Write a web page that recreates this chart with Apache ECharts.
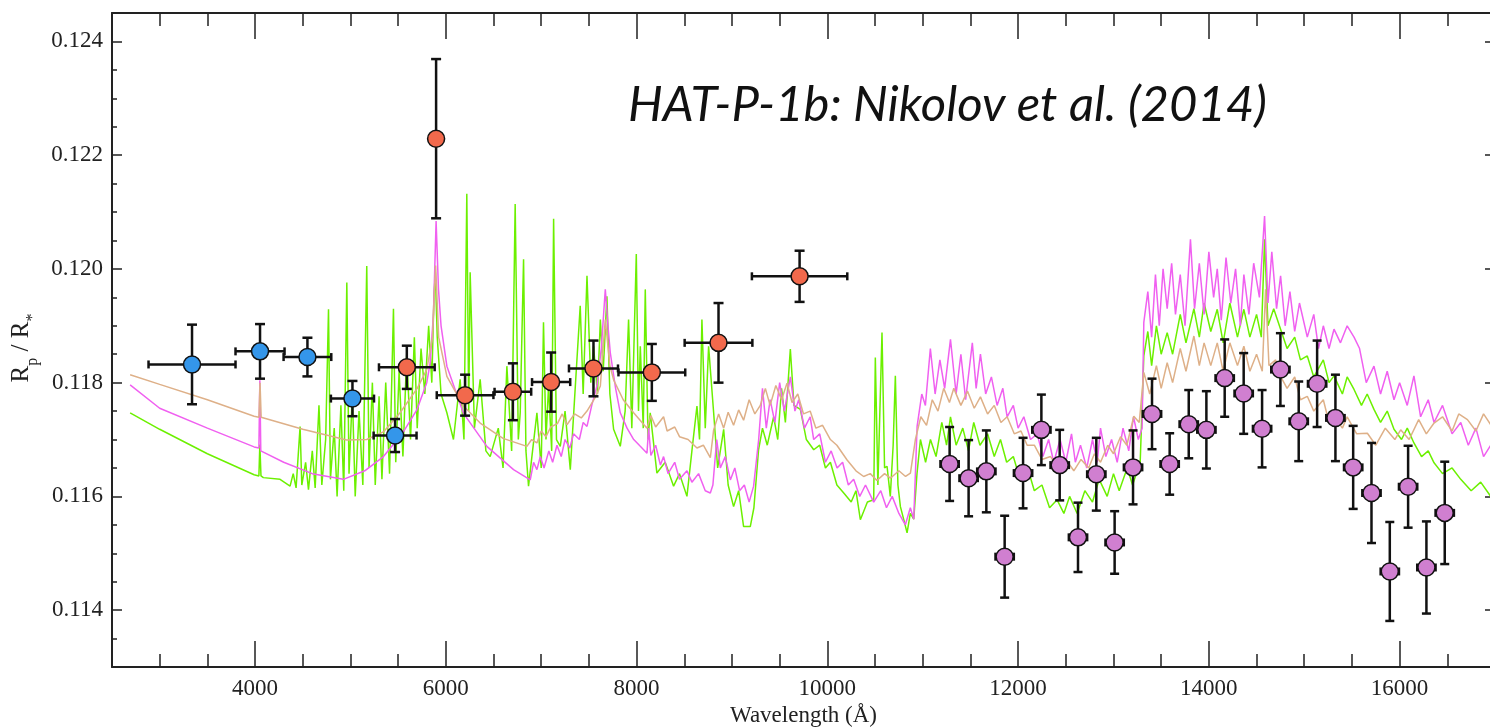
<!DOCTYPE html>
<html>
<head>
<meta charset="utf-8">
<title>HAT-P-1b transmission spectrum</title>
<script src="https://cdn.jsdelivr.net/npm/echarts@6.0.0/dist/echarts.min.js"></script>
<style>
html, body { margin: 0; padding: 0; background: #fff; }
#main { width: 1490px; height: 727px; }
</style>
</head>
<body>
<div id="main"></div>
<script>
// tick positions
const xMajor = [4000, 6000, 8000, 10000, 12000, 14000, 16000];
const xMinor = [3000, 3500, 4500, 5000, 5500, 6500, 7000, 7500, 8500, 9000, 9500,
  10500, 11000, 11500, 12500, 13000, 13500, 14500, 15000, 15500, 16500];
const yMajor = [0.114, 0.116, 0.118, 0.120, 0.122, 0.124];
const yMinor = [0.1135, 0.1145, 0.115, 0.1155, 0.1165, 0.117, 0.1175, 0.1185, 0.119, 0.1195,
  0.1205, 0.121, 0.1215, 0.1225, 0.123, 0.1235];

// STIS G430L bins (blue)
const blueWave = [3339, 4052, 4549, 5021, 5468];
const blueRp = [0.11832, 0.11855, 0.11845, 0.11772, 0.11707];
const blueWaveErr = [456, 257, 250, 226, 225];
const blueRpErr = [0.00070, 0.00048, 0.00034, 0.00031, 0.00029];

// STIS G750L bins (orange)
const orangeWave = [5591, 5898, 6202, 6703, 7104, 7548, 8160, 8859, 9709];
const orangeRp = [0.11827, 0.12229, 0.11778, 0.11784, 0.11801, 0.11825, 0.11818, 0.11870, 0.11987];
const orangeWaveErr = [292, 0, 297, 192, 200, 257, 350, 355, 500];
const orangeRpErr = [0.00038, 0.00140, 0.00036, 0.00050, 0.00052, 0.00049, 0.00050, 0.00070, 0.00045];

// WFC3 bins (purple)
const purpleWave = [11282, 11481, 11667, 11859, 12052, 12244, 12436, 12628, 12820, 13012, 13205, 13404,
  13589, 13789, 13974, 14166, 14365, 14558, 14750, 14942, 15135, 15327, 15513, 15705, 15897, 16089, 16281, 16473];
const purpleRp = [0.11657, 0.11632, 0.11644, 0.11494, 0.11641, 0.11717, 0.11655, 0.11528, 0.11639, 0.11519,
  0.11651, 0.11745, 0.11657, 0.11727, 0.11717, 0.11808, 0.11781, 0.11719, 0.11823, 0.11732, 0.11798,
  0.11738, 0.11651, 0.11606, 0.11468, 0.11617, 0.11475, 0.11571];
const purpleRpErr = [0.00065, 0.00067, 0.00072, 0.00072, 0.00062, 0.00062, 0.00062, 0.00061, 0.00064, 0.00055,
  0.00065, 0.00062, 0.00054, 0.00060, 0.00068, 0.00068, 0.00071, 0.00068, 0.00064, 0.00070, 0.00076,
  0.00076, 0.00073, 0.00088, 0.00087, 0.00072, 0.00081, 0.00090];
const purpleWaveErr = 96;

// model spectra [wavelength, Rp/R*]
const greenModel = [
  [2690, 0.11747], [3000, 0.11718], [3500, 0.11675], [3990, 0.11638], [4040, 0.11636], [4050, 0.11691],
  [4062, 0.11636], [4087, 0.11633], [4262, 0.11630], [4367, 0.11618], [4400, 0.11640], [4430, 0.11615],
  [4472, 0.11723], [4490, 0.11620], [4530, 0.11660], [4560, 0.11612], [4600, 0.11680], [4630, 0.11615],
  [4670, 0.11760], [4700, 0.11620], [4740, 0.11700], [4770, 0.11929], [4790, 0.11630], [4830, 0.11720],
  [4860, 0.11600], [4900, 0.11760], [4930, 0.11610], [4962, 0.11976], [4985, 0.11640], [5020, 0.11780],
  [5050, 0.11600], [5090, 0.11750], [5130, 0.11620], [5171, 0.12005], [5195, 0.11650], [5230, 0.11800],
  [5260, 0.11620], [5300, 0.11776], [5330, 0.11630], [5370, 0.11800], [5410, 0.11640], [5451, 0.11930],
  [5475, 0.11660], [5510, 0.11820], [5550, 0.11670], [5590, 0.11850], [5630, 0.11700], [5670, 0.11880],
  [5700, 0.11720], [5740, 0.11860], [5780, 0.11780], [5820, 0.11900], [5853, 0.11800], [5875, 0.11950],
  [5890, 0.11994], [5910, 0.11880], [5950, 0.11780], [6011, 0.11747], [6080, 0.11700], [6150, 0.11806],
  [6190, 0.11700], [6220, 0.12132], [6240, 0.11750], [6255, 0.11994], [6300, 0.11720], [6360, 0.11806],
  [6420, 0.11680], [6465, 0.11670], [6550, 0.11720], [6600, 0.11650], [6640, 0.11829], [6690, 0.11680],
  [6727, 0.12114], [6760, 0.11700], [6780, 0.11747], [6815, 0.12017], [6840, 0.11680], [6867, 0.11618],
  [6955, 0.11747], [7000, 0.11650], [7024, 0.11906], [7050, 0.11700], [7077, 0.11794], [7110, 0.11680],
  [7130, 0.12088], [7160, 0.11700], [7200, 0.11688], [7250, 0.11750], [7305, 0.11647], [7360, 0.11800],
  [7409, 0.11935], [7440, 0.11780], [7480, 0.11988], [7520, 0.11800], [7549, 0.11864], [7590, 0.11780],
  [7620, 0.11911], [7650, 0.11820], [7689, 0.11952], [7720, 0.11780], [7759, 0.11718], [7829, 0.11688],
  [7880, 0.11750], [7916, 0.11911], [7950, 0.11720], [7997, 0.12026], [8020, 0.11750], [8039, 0.11864],
  [8070, 0.11720], [8091, 0.11964], [8120, 0.11700], [8143, 0.11747], [8213, 0.11641], [8300, 0.11660],
  [8388, 0.11618], [8450, 0.11640], [8528, 0.11600], [8580, 0.11680], [8633, 0.11759], [8660, 0.11700],
  [8685, 0.11911], [8720, 0.11720], [8755, 0.11864], [8808, 0.11747], [8850, 0.11650], [8913, 0.11718],
  [8960, 0.11620], [9017, 0.11582], [9070, 0.11610], [9122, 0.11547], [9192, 0.11547], [9230, 0.11580],
  [9279, 0.11682], [9320, 0.11720], [9370, 0.11690], [9437, 0.11740], [9480, 0.11700], [9520, 0.11790],
  [9560, 0.11730], [9612, 0.11859], [9650, 0.11760], [9717, 0.11753], [9780, 0.11700], [9857, 0.11682],
  [9920, 0.11690], [9980, 0.11650], [10032, 0.11660], [10100, 0.11620], [10172, 0.11606], [10250, 0.11590],
  [10300, 0.11610], [10346, 0.11559], [10420, 0.11590], [10486, 0.11594], [10503, 0.11844], [10530, 0.11620],
  [10573, 0.11888], [10600, 0.11650], [10626, 0.11653], [10660, 0.11600], [10690, 0.11690], [10713, 0.11812],
  [10740, 0.11620], [10766, 0.11582], [10800, 0.11560], [10836, 0.11536], [10870, 0.11570], [10906, 0.11560],
  [10940, 0.11640], [10976, 0.11700], [11030, 0.11660], [11081, 0.11700], [11140, 0.11670], [11200, 0.11730],
  [11250, 0.11690], [11291, 0.11740], [11350, 0.11690], [11420, 0.11720], [11480, 0.11680], [11535, 0.11730],
  [11600, 0.11690], [11680, 0.11710], [11750, 0.11670], [11815, 0.11700], [11880, 0.11660], [11950, 0.11670],
  [12020, 0.11630], [12095, 0.11653], [12170, 0.11610], [12250, 0.11620], [12330, 0.11580], [12409, 0.11594],
  [12480, 0.11570], [12540, 0.11600], [12619, 0.11570], [12700, 0.11610], [12780, 0.11590], [12850, 0.11630],
  [12934, 0.11600], [13000, 0.11640], [13060, 0.11610], [13144, 0.11650], [13200, 0.11620], [13280, 0.11660],
  [13318, 0.11847], [13360, 0.11890], [13400, 0.11830], [13450, 0.11900], [13500, 0.11850], [13563, 0.11888],
  [13620, 0.11850], [13700, 0.11920], [13760, 0.11870], [13843, 0.11930], [13900, 0.11880], [13950, 0.11940],
  [14020, 0.11890], [14088, 0.11929], [14150, 0.11870], [14220, 0.11940], [14300, 0.11880], [14367, 0.11929],
  [14430, 0.11880], [14500, 0.11920], [14550, 0.11880], [14584, 0.12052], [14620, 0.11900], [14680, 0.11930],
  [14752, 0.11894], [14820, 0.11860], [14900, 0.11880], [14960, 0.11840], [15032, 0.11847], [15100, 0.11810],
  [15200, 0.11840], [15260, 0.11800], [15312, 0.11812], [15400, 0.11780], [15450, 0.11810], [15522, 0.11788],
  [15600, 0.11760], [15660, 0.11780], [15731, 0.11753], [15800, 0.11730], [15870, 0.11750], [15941, 0.11718],
  [16020, 0.11700], [16080, 0.11720], [16150, 0.11694], [16230, 0.11670], [16300, 0.11680], [16361, 0.11659],
  [16450, 0.11640], [16550, 0.11650], [16641, 0.11630], [16750, 0.11610], [16850, 0.11625], [16955, 0.11600]
];

const magentaModel = [
  [2690, 0.11796], [3000, 0.11755], [3500, 0.11720], [3990, 0.11687], [4040, 0.11685], [4050, 0.11804],
  [4060, 0.11680], [4300, 0.11660], [4600, 0.11640], [4926, 0.11630], [5150, 0.11645], [5346, 0.11670],
  [5550, 0.11712], [5696, 0.11752], [5800, 0.11800], [5836, 0.11835], [5870, 0.11920], [5898, 0.12084],
  [5923, 0.11964], [5950, 0.11900], [6011, 0.11829], [6185, 0.11746], [6430, 0.11688], [6710, 0.11647],
  [6885, 0.11629], [6920, 0.11660], [6955, 0.11647], [6990, 0.11670], [7030, 0.11650], [7080, 0.11680],
  [7120, 0.11660], [7165, 0.11690], [7210, 0.11670], [7250, 0.11700], [7300, 0.11685], [7339, 0.11710],
  [7400, 0.11700], [7440, 0.11730], [7480, 0.11723], [7530, 0.11760], [7584, 0.11794], [7630, 0.11860],
  [7672, 0.11964], [7700, 0.11900], [7724, 0.11853], [7780, 0.11790], [7829, 0.11747], [7900, 0.11720],
  [7970, 0.11700], [8039, 0.11688], [8109, 0.11676], [8126, 0.11720], [8150, 0.11672], [8200, 0.11690],
  [8250, 0.11655], [8283, 0.11670], [8330, 0.11640], [8400, 0.11660], [8450, 0.11630], [8528, 0.11645],
  [8580, 0.11625], [8650, 0.11640], [8720, 0.11610], [8773, 0.11606], [8800, 0.11620], [8840, 0.11700],
  [8878, 0.11650], [8930, 0.11670], [8983, 0.11629], [9030, 0.11650], [9080, 0.11610], [9130, 0.11620],
  [9180, 0.11590], [9227, 0.11618], [9280, 0.11700], [9320, 0.11790], [9360, 0.11720], [9400, 0.11770],
  [9450, 0.11730], [9500, 0.11800], [9550, 0.11750], [9612, 0.11810], [9660, 0.11750], [9700, 0.11770],
  [9760, 0.11720], [9820, 0.11740], [9857, 0.11700], [9920, 0.11710], [9980, 0.11660], [10040, 0.11680],
  [10102, 0.11650], [10160, 0.11660], [10220, 0.11620], [10276, 0.11630], [10340, 0.11600], [10400, 0.11620],
  [10486, 0.11590], [10560, 0.11610], [10620, 0.11580], [10680, 0.11600], [10750, 0.11570], [10818, 0.11550],
  [10870, 0.11580], [10906, 0.11560], [10941, 0.11723], [10990, 0.11780], [11028, 0.11760], [11080, 0.11860],
  [11130, 0.11780], [11180, 0.11840], [11230, 0.11790], [11291, 0.11876], [11350, 0.11780], [11400, 0.11850],
  [11450, 0.11770], [11520, 0.11870], [11560, 0.11790], [11605, 0.11850], [11660, 0.11780], [11720, 0.11810],
  [11780, 0.11760], [11840, 0.11790], [11885, 0.11740], [11950, 0.11760], [12000, 0.11720], [12060, 0.11740],
  [12130, 0.11700], [12200, 0.11710], [12260, 0.11670], [12320, 0.11700], [12374, 0.11660], [12440, 0.11700],
  [12500, 0.11660], [12560, 0.11710], [12600, 0.11660], [12654, 0.11690], [12720, 0.11650], [12780, 0.11700],
  [12830, 0.11660], [12864, 0.11720], [12920, 0.11670], [12980, 0.11700], [13039, 0.11660], [13100, 0.11720],
  [13160, 0.11680], [13210, 0.11740], [13260, 0.11700], [13300, 0.11720], [13318, 0.11906], [13360, 0.11960],
  [13400, 0.11880], [13440, 0.11990], [13480, 0.11900], [13520, 0.12000], [13563, 0.11930], [13610, 0.12010],
  [13650, 0.11920], [13700, 0.11990], [13750, 0.11900], [13807, 0.12052], [13850, 0.11930], [13900, 0.12010],
  [13950, 0.11920], [14000, 0.12030], [14050, 0.11950], [14088, 0.12000], [14130, 0.11910], [14180, 0.12020],
  [14230, 0.11940], [14280, 0.12000], [14330, 0.11900], [14367, 0.11990], [14420, 0.11920], [14470, 0.12010],
  [14530, 0.11950], [14584, 0.12093], [14620, 0.11940], [14660, 0.12030], [14710, 0.11930], [14752, 0.11988],
  [14800, 0.11900], [14850, 0.11960], [14900, 0.11890], [14950, 0.11940], [15032, 0.11880], [15100, 0.11920],
  [15150, 0.11860], [15200, 0.11900], [15260, 0.11860], [15312, 0.11894], [15380, 0.11870], [15450, 0.11900],
  [15522, 0.11880], [15580, 0.11860], [15650, 0.11800], [15731, 0.11829], [15800, 0.11780], [15870, 0.11820],
  [15941, 0.11770], [16000, 0.11800], [16080, 0.11760], [16150, 0.11812], [16220, 0.11740], [16300, 0.11770],
  [16361, 0.11730], [16450, 0.11760], [16550, 0.11710], [16641, 0.11730], [16720, 0.11690], [16800, 0.11720],
  [16880, 0.11670], [16955, 0.11690]
];

const tanModel = [
  [2690, 0.11814], [3000, 0.11797], [3500, 0.11770], [3990, 0.11741], [4040, 0.11739], [4052, 0.11800],
  [4064, 0.11739], [4500, 0.11718], [4960, 0.11699], [5170, 0.11700], [5350, 0.11714], [5520, 0.11747],
  [5700, 0.11790], [5800, 0.11823], [5860, 0.11880], [5893, 0.12006], [5925, 0.11880], [6011, 0.11811],
  [6180, 0.11760], [6360, 0.11729], [6600, 0.11702], [6850, 0.11688], [6900, 0.11700], [6955, 0.11694],
  [7000, 0.11715], [7050, 0.11705], [7100, 0.11722], [7170, 0.11728], [7220, 0.11745], [7270, 0.11726],
  [7350, 0.11745], [7420, 0.11738], [7480, 0.11750], [7570, 0.11775], [7620, 0.11794], [7672, 0.11911],
  [7720, 0.11830], [7759, 0.11805], [7860, 0.11770], [7969, 0.11747], [8109, 0.11720], [8150, 0.11742],
  [8200, 0.11722], [8283, 0.11740], [8320, 0.11715], [8400, 0.11722], [8450, 0.11705], [8540, 0.11700],
  [8633, 0.11685], [8700, 0.11690], [8773, 0.11668], [8808, 0.11717], [8860, 0.11745], [8913, 0.11720],
  [8960, 0.11748], [9017, 0.11725], [9070, 0.11752], [9122, 0.11734], [9180, 0.11770], [9240, 0.11745],
  [9297, 0.11760], [9350, 0.11790], [9400, 0.11760], [9460, 0.11795], [9520, 0.11770], [9577, 0.11799],
  [9630, 0.11765], [9690, 0.11780], [9750, 0.11745], [9820, 0.11750], [9880, 0.11720], [9950, 0.11725],
  [10032, 0.11700], [10100, 0.11690], [10207, 0.11664], [10300, 0.11645], [10381, 0.11635], [10450, 0.11640],
  [10520, 0.11628], [10600, 0.11640], [10661, 0.11632], [10750, 0.11645], [10820, 0.11635], [10871, 0.11641],
  [10923, 0.11700], [10980, 0.11740], [11040, 0.11725], [11100, 0.11770], [11160, 0.11750], [11220, 0.11790],
  [11280, 0.11765], [11326, 0.11790], [11400, 0.11760], [11470, 0.11785], [11540, 0.11755], [11605, 0.11775],
  [11680, 0.11745], [11750, 0.11760], [11820, 0.11730], [11885, 0.11740], [11960, 0.11710], [12030, 0.11715],
  [12095, 0.11690], [12170, 0.11690], [12250, 0.11665], [12340, 0.11670], [12420, 0.11650], [12500, 0.11665],
  [12584, 0.11645], [12660, 0.11665], [12740, 0.11650], [12800, 0.11675], [12864, 0.11660], [12940, 0.11690],
  [13000, 0.11675], [13074, 0.11705], [13140, 0.11690], [13213, 0.11741], [13270, 0.11730], [13318, 0.11818],
  [13380, 0.11780], [13450, 0.11830], [13500, 0.11790], [13563, 0.11835], [13620, 0.11800], [13700, 0.11860],
  [13760, 0.11820], [13843, 0.11882], [13900, 0.11830], [13950, 0.11870], [14020, 0.11830], [14088, 0.11870],
  [14150, 0.11820], [14220, 0.11870], [14300, 0.11830], [14367, 0.11864], [14430, 0.11820], [14500, 0.11850],
  [14560, 0.11820], [14595, 0.11964], [14630, 0.11830], [14700, 0.11840], [14752, 0.11811], [14820, 0.11790],
  [14900, 0.11810], [14960, 0.11770], [15032, 0.11776], [15100, 0.11750], [15200, 0.11770], [15260, 0.11730],
  [15312, 0.11741], [15400, 0.11720], [15450, 0.11740], [15550, 0.11710], [15662, 0.11711], [15750, 0.11690],
  [15850, 0.11720], [15950, 0.11700], [16011, 0.11717], [16100, 0.11700], [16200, 0.11735], [16280, 0.11710],
  [16361, 0.11729], [16450, 0.11740], [16550, 0.11715], [16620, 0.11745], [16711, 0.11735], [16800, 0.11715],
  [16880, 0.11745], [16955, 0.11726]
];

function zip(wave, rp, werr, rerr) {
  return wave.map((w, i) => [w, rp[i], Array.isArray(werr) ? werr[i] : werr, rerr[i]]);
}
const blueData = zip(blueWave, blueRp, blueWaveErr, blueRpErr);
const orangeData = zip(orangeWave, orangeRp, orangeWaveErr, orangeRpErr);
const purpleData = zip(purpleWave, purpleRp, purpleWaveErr, purpleRpErr);

// draws x/y error bars with caps
function errorBars(vWidth, hWidth, vCap, hCap) {
  return function (params, api) {
    const x = api.value(0), y = api.value(1), dx = api.value(2), dy = api.value(3);
    const kids = [];
    const sv = { stroke: '#111', lineWidth: vWidth };
    const sh = { stroke: '#111', lineWidth: hWidth };
    if (dy > 0) {
      const a = api.coord([x, y + dy]), b = api.coord([x, y - dy]);
      kids.push({ type: 'line', shape: { x1: a[0], y1: a[1], x2: b[0], y2: b[1] }, style: sv });
      kids.push({ type: 'line', shape: { x1: a[0] - vCap, y1: a[1], x2: a[0] + vCap, y2: a[1] }, style: sv });
      kids.push({ type: 'line', shape: { x1: b[0] - vCap, y1: b[1], x2: b[0] + vCap, y2: b[1] }, style: sv });
    }
    if (dx > 0) {
      const l = api.coord([x - dx, y]), r = api.coord([x + dx, y]);
      kids.push({ type: 'line', shape: { x1: l[0], y1: l[1], x2: r[0], y2: r[1] }, style: sh });
      kids.push({ type: 'line', shape: { x1: l[0], y1: l[1] - hCap, x2: l[0], y2: l[1] + hCap }, style: sv });
      kids.push({ type: 'line', shape: { x1: r[0], y1: r[1] - hCap, x2: r[0], y2: r[1] + hCap }, style: sv });
    }
    return { type: 'group', children: kids };
  };
}

const axisColor = '#222';
const serif = 'Liberation Serif';

function xAx(pos, ticks, len, labels, line) {
  return {
    type: 'value', position: pos, min: 2500, max: 17000,
    axisLine: { show: line, onZero: false, lineStyle: { color: axisColor, width: 2 } },
    axisTick: { show: true, inside: true, length: len, customValues: ticks, lineStyle: { color: axisColor, width: 1.5 } },
    axisLabel: labels ? { customValues: xMajor, margin: 10, fontFamily: serif, fontSize: 23, color: axisColor,
      formatter: v => String(v) } : { show: false },
    splitLine: { show: false }
  };
}
function yAx(pos, ticks, len, labels, line) {
  return {
    type: 'value', position: pos, min: 0.113, max: 0.1245,
    axisLine: { show: line, onZero: false, lineStyle: { color: axisColor, width: 2 } },
    axisTick: { show: true, inside: true, length: len, customValues: ticks, lineStyle: { color: axisColor, width: 1.5 } },
    axisLabel: labels ? { customValues: yMajor, margin: 9, fontFamily: serif, fontSize: 23, color: axisColor,
      formatter: v => v.toFixed(3) } : { show: false },
    splitLine: { show: false }
  };
}

const xAxes = [xAx('bottom', xMajor, 26, true, true), xAx('bottom', xMinor, 13, false, false),
  xAx('top', xMajor, 26, false, true), xAx('top', xMinor, 13, false, false)];
xAxes[0].name = 'Wavelength (Å)';
xAxes[0].nameLocation = 'middle';
xAxes[0].nameGap = 37;
xAxes[0].nameTextStyle = { fontFamily: serif, fontSize: 23, color: axisColor };

const yAxes = [yAx('left', yMajor, 10, true, true), yAx('left', yMinor, 5, false, false),
  yAx('right', yMajor, 10, false, true), yAx('right', yMinor, 5, false, false)];
yAxes[0].name = '{r|R}{s|p}{r| / R}{s|*}';
yAxes[0].nameLocation = 'middle';
yAxes[0].nameRotate = 90;
yAxes[0].nameGap = 64;
yAxes[0].nameTextStyle = {
  padding: [0, 16, 0, 0],
  rich: {
    r: { fontFamily: serif, fontSize: 25, color: axisColor },
    s: { fontFamily: serif, fontSize: 16, color: axisColor, verticalAlign: 'bottom', padding: [0, 0, -6, 0] }
  }
};

function modelLine(data, color) {
  return { type: 'line', data: data, showSymbol: false, symbol: 'none', silent: true,
    lineStyle: { color: color, width: 1.5 }, z: 2 };
}
function points(data, color) {
  return { type: 'scatter', data: data, symbol: 'circle', symbolSize: 17, silent: true, z: 5,
    itemStyle: { color: color, opacity: 1, borderColor: '#111', borderWidth: 1.5 } };
}
function bars(data, render) {
  return { type: 'custom', data: data, renderItem: render, silent: true, z: 4, clip: true,
    encode: { x: 0, y: 1 } };
}

const option = {
  animation: false,
  backgroundColor: '#fff',
  title: {
    text: 'HAT-P-1b: Nikolov et al. (2014)',
    left: 623, top: 76,
    textStyle: { fontFamily: 'Lato', fontStyle: 'italic', fontWeight: 'normal', fontSize: 49, color: '#111' }
  },
  grid: { left: 112, top: 13, width: 1383, height: 654, outerBoundsMode: 'none', containLabel: false },
  xAxis: xAxes,
  yAxis: yAxes,
  series: [
    modelLine(greenModel, '#6cf000'),
    modelLine(magentaModel, '#f060f0'),
    modelLine(tanModel, '#deb088'),
    bars(blueData, errorBars(2.5, 2.5, 5, 4)),
    bars(orangeData, errorBars(2.5, 2.5, 5, 4)),
    bars(purpleData, errorBars(2.5, 4, 4.5, 4)),
    points(blueData, '#3496ea'),
    points(orangeData, '#f2694c'),
    points(purpleData, '#d07fd0')
  ]
};

const chart = echarts.init(document.getElementById('main'));
chart.setOption(option);
</script>
</body>
</html>
